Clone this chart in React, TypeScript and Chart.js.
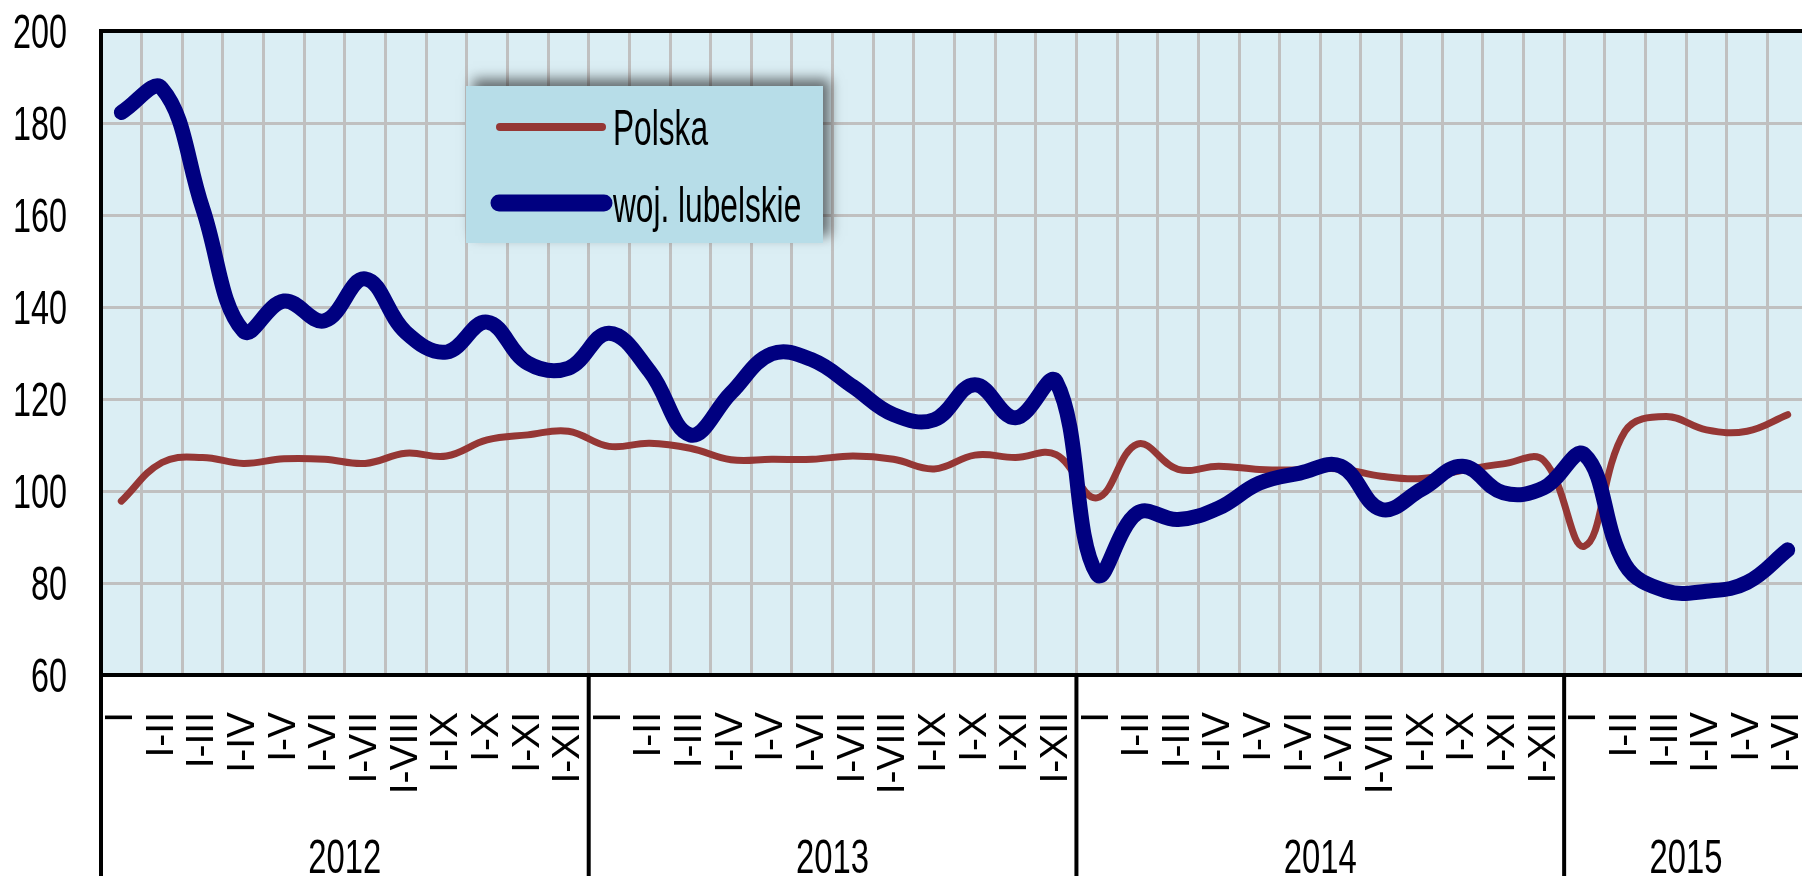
import React, { useEffect, useRef } from 'react';
import { Chart, registerables } from 'chart.js';

Chart.register(...registerables);

// ---- data ----
const years = ['2012', '2013', '2014', '2015'];
const monthsPerYear = [12, 12, 12, 6];
const periodLabels = ['I', 'I-II', 'I-III', 'I-IV', 'I-V', 'I-VI', 'I-VII', 'I-VIII', 'I-IX', 'I-X', 'I-XI', 'I-XII'];
const seriesNames = ['Polska', 'woj. lubelskie'];

const polska = [
  97.8, 106.2, 107.3, 106.0, 107.0, 106.9, 106.0, 108.2, 107.6, 111.1, 112.2, 113.0,
  109.7, 110.4, 109.3, 106.8, 106.9, 106.9, 107.6, 106.9, 104.8, 107.8, 107.3, 107.9,
  98.5, 110.2, 104.7, 105.4, 104.7, 104.6, 104.8, 103.2, 102.7, 104.5, 105.9, 106.6,
  88.0, 113.0, 116.2, 113.3, 113.0, 116.6,
];
const lubelskie = [
  182.3, 187.5, 161.5, 134.8, 141.3, 137.0, 146.1, 134.5, 130.2, 136.7, 127.8, 126.7,
  134.3, 126.0, 112.2, 121.3, 129.8, 128.5, 122.7, 116.6, 115.5, 123.1, 115.9, 123.8,
  82.0, 95.2, 93.8, 96.3, 101.7, 103.9, 105.4, 96.0, 100.4, 105.4, 99.6, 100.7,
  107.9, 84.0, 78.3, 78.2, 80.1, 87.2,
];
const yMin = 60;
const yMax = 200;
const yStep = 20;

const categories: string[] = [];
monthsPerYear.forEach((n) => {
  for (let i = 0; i < n; i++) categories.push(periodLabels[i]);
});

// ---- styles ----
const NARROW = "'Liberation Sans Narrow', 'Arial Narrow', 'Liberation Sans', Arial, sans-serif";
const SANS = "'Liberation Sans', Arial, sans-serif";
const RED = '#953735';
const BLUE = '#000080';
const GRID = '#c0c0c0';
const PLOT_BG = '#dbeef4';
const LEGEND_BG = '#b7dde8';
const FRAME = 4;

const backgroundPlugin = {
  id: 'plotBg',
  beforeDraw(chart: any) {
    const { ctx, chartArea } = chart;
    ctx.save();
    ctx.fillStyle = '#ffffff';
    ctx.fillRect(0, 0, chart.width, chart.height);
    ctx.fillStyle = PLOT_BG;
    ctx.fillRect(chartArea.left, chartArea.top, chartArea.right - chartArea.left, chartArea.bottom - chartArea.top);
    ctx.restore();
  },
};

const legendPlugin = {
  id: 'boxLegend',
  afterDatasetsDraw(chart: any) {
    const { ctx } = chart;
    const ds = chart.data.datasets;
    const bx = 466, by = 86, bw = 357, bh = 157;
    ctx.save();
    ctx.shadowColor = 'rgba(0,0,0,0.55)';
    ctx.shadowBlur = 12;
    ctx.shadowOffsetX = 7;
    ctx.shadowOffsetY = -7;
    ctx.fillStyle = LEGEND_BG;
    ctx.fillRect(bx, by, bw, bh);
    ctx.restore();

    const rows = [
      { y: 127, lw: 8, x0: 500, x1: 602, base: 145 },
      { y: 203, lw: 17, x0: 499, x1: 604, base: 222 },
    ];
    ctx.save();
    ctx.font = `50px ${NARROW}`;
    const sx = 95 / ctx.measureText(ds[0].label).width;
    rows.forEach((r, i) => {
      const d = ds[i];
      ctx.beginPath();
      ctx.strokeStyle = d.borderColor;
      ctx.lineWidth = r.lw;
      ctx.lineCap = 'round';
      ctx.moveTo(r.x0, r.y);
      ctx.lineTo(r.x1, r.y);
      ctx.stroke();
      ctx.save();
      ctx.translate(613, r.base);
      ctx.scale(sx, 1);
      ctx.fillStyle = '#000';
      ctx.textBaseline = 'alphabetic';
      ctx.textAlign = 'left';
      ctx.fillText(d.label, 0, 0);
      ctx.restore();
    });
    ctx.restore();
  },
};

const framePlugin = {
  id: 'frameYears',
  afterDraw(chart: any) {
    const { ctx, chartArea } = chart;
    const xs = chart.scales.x;
    const ys = chart.scales.y;
    const half = (xs.getPixelForValue(1) - xs.getPixelForValue(0)) / 2;
    ctx.save();
    ctx.strokeStyle = '#000';
    ctx.lineWidth = FRAME;
    ctx.lineCap = 'butt';
    // plot frame
    ctx.beginPath();
    ctx.moveTo(chartArea.right + 2, chartArea.top);
    ctx.lineTo(chartArea.left, chartArea.top);
    ctx.lineTo(chartArea.left, chart.height);
    ctx.moveTo(chartArea.left, chartArea.bottom);
    ctx.lineTo(chartArea.right + 2, chartArea.bottom);
    ctx.stroke();

    // y tick labels (condensed), positioned by the y scale
    ctx.font = `48px ${NARROW}`;
    const sy = 54 / ctx.measureText('200').width;
    ys.ticks.forEach((t: any) => {
      const py = ys.getPixelForValue(t.value);
      ctx.save();
      ctx.translate(67, py + 17);
      ctx.scale(sy, 1);
      ctx.fillStyle = '#000';
      ctx.textAlign = 'right';
      ctx.textBaseline = 'alphabetic';
      ctx.fillText(String(t.label ?? t.value), 0, 0);
      ctx.restore();
    });

    // year separators and labels
    ctx.font = `48px ${NARROW}`;
    const syear = 73 / ctx.measureText(years[0]).width;
    let start = 0;
    years.forEach((yr, k) => {
      const n = monthsPerYear[k];
      const xL = xs.getPixelForValue(start) - half;
      const xR = xs.getPixelForValue(start + n - 1) + half;
      ctx.beginPath();
      ctx.moveTo(xR, chartArea.bottom);
      ctx.lineTo(xR, chart.height);
      ctx.stroke();
      ctx.save();
      ctx.translate((xL + xR) / 2, 873);
      ctx.scale(syear, 1);
      ctx.fillStyle = '#000';
      ctx.textAlign = 'center';
      ctx.textBaseline = 'alphabetic';
      ctx.fillText(yr, 0, 0);
      ctx.restore();
      start += n;
    });
    ctx.restore();
  },
};

export default function App() {
  const ref = useRef<HTMLCanvasElement>(null);

  useEffect(() => {
    if (!ref.current) return;
    const chart = new Chart(ref.current, {
      type: 'line',
      data: {
        labels: categories,
        datasets: [
          {
            label: seriesNames[0],
            data: polska,
            borderColor: RED,
            backgroundColor: RED,
            borderWidth: 7,
            pointRadius: 0,
            tension: 0.4,
            borderCapStyle: 'round',
            borderJoinStyle: 'round',
            fill: false,
            order: 1,
          },
          {
            label: seriesNames[1],
            data: lubelskie,
            borderColor: BLUE,
            backgroundColor: BLUE,
            borderWidth: 15,
            pointRadius: 0,
            tension: 0.4,
            borderCapStyle: 'round',
            borderJoinStyle: 'round',
            fill: false,
            order: 0,
          },
        ],
      },
      options: {
        animation: false,
        responsive: false,
        maintainAspectRatio: false,
        events: [],
        layout: { padding: { top: 31, left: 0, right: 0, bottom: 0 } },
        plugins: {
          legend: { display: false },
          tooltip: { enabled: false },
        },
        scales: {
          x: {
            type: 'category',
            offset: true,
            grid: { offset: true, color: GRID, lineWidth: 3, drawTicks: false },
            border: { display: false },
            ticks: {
              autoSkip: false,
              minRotation: 90,
              maxRotation: 90,
              padding: 37,
              color: '#000',
              font: { family: SANS, size: 39 },
            },
            afterFit: (s: any) => {
              s.height = 201;
              s.paddingLeft = 0;
              s.paddingRight = 0;
            },
          },
          y: {
            min: yMin,
            max: yMax,
            ticks: {
              stepSize: yStep,
              display: false,
            },
            grid: { color: GRID, lineWidth: 3, drawTicks: false },
            border: { display: false },
            afterFit: (s: any) => {
              s.width = 101;
              s.paddingTop = 0;
              s.paddingBottom = 0;
            },
          },
        },
      } as any,
      plugins: [backgroundPlugin, legendPlugin, framePlugin],
    });
    return () => chart.destroy();
  }, []);

  return (
    <div
      style={{
        position: 'fixed',
        left: 0,
        top: 0,
        width: 1802,
        height: 876,
        overflow: 'hidden',
        background: '#fff',
      }}
    >
      <canvas ref={ref} width={1808} height={876} style={{ display: 'block' }} />
    </div>
  );
}
